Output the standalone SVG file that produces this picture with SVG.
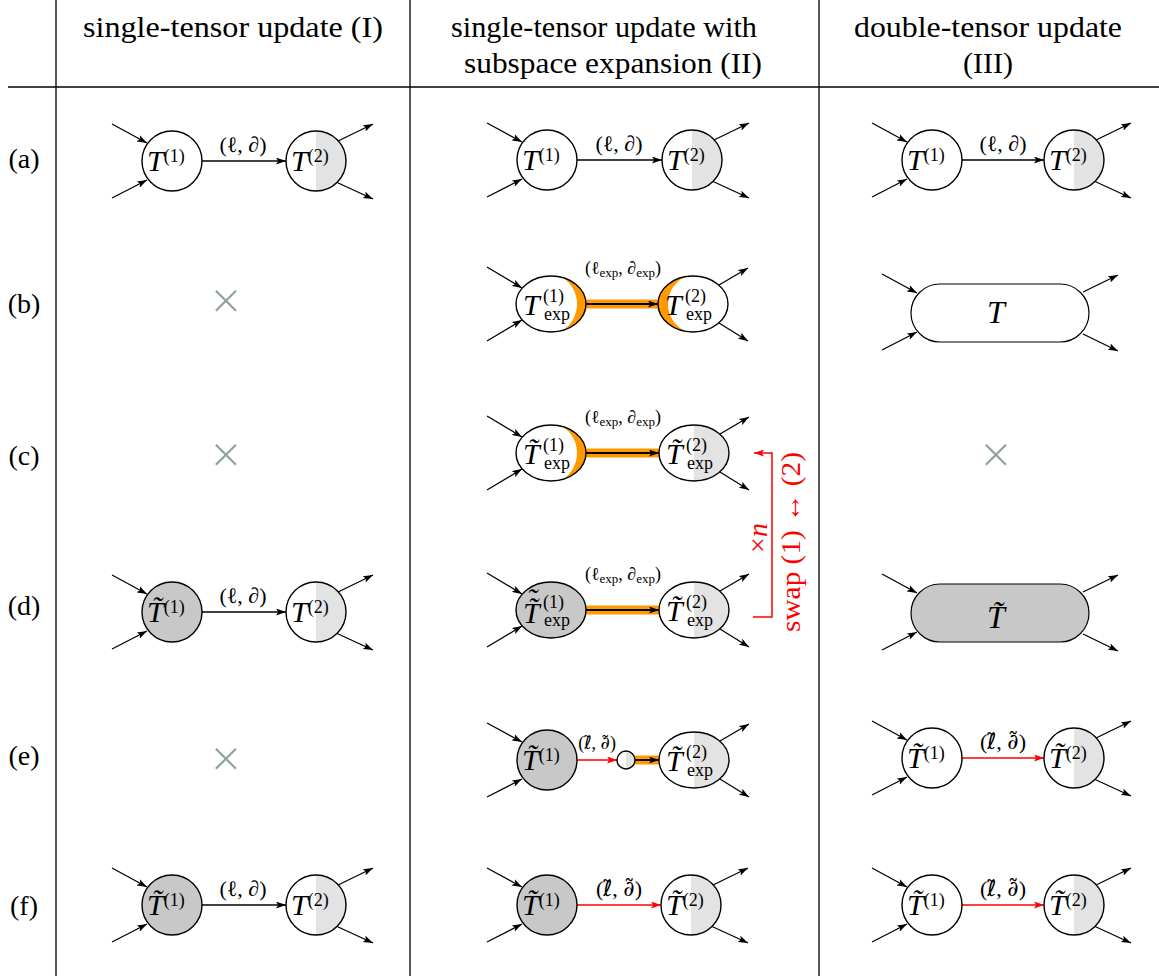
<svg xmlns="http://www.w3.org/2000/svg" width="1159" height="976" viewBox="0 0 1159 976">
<style>
.tx{font-family:"Liberation Serif","DejaVu Serif",serif;fill:#000}
.hd{font-size:30px}
.rl{font-size:28px}
.T{font-style:italic;font-size:30px}
.sp{font-size:18px;font-style:normal}
.lb{font-size:22px}
.sm{font-size:18px}
.ss{font-size:13px}
.dv{font-family:"DejaVu Serif",serif}
.dl{font-family:"DejaVu Sans",sans-serif}
.wh{fill:#fff}
.gr{fill:#c8c8c8}
.hg{fill:#e3e3e3}
.or{fill:#ff9900}
.ol{fill:none;stroke:#000;stroke-width:1.4}
.st{stroke:#000;stroke-width:1.3;fill:none;marker-end:url(#ah)}
.ed{stroke:#000;stroke-width:1.3;fill:none;marker-end:url(#ah)}
.red{stroke:#ff0000;stroke-width:1.5;fill:none;marker-end:url(#ahr)}
.band{stroke:#ff9900;stroke-width:9;fill:none}
.bk{stroke:#000;stroke-width:2;fill:none;marker-end:url(#ah)}
.grid{stroke:#000;stroke-width:1.3;fill:none}
.cross{font-family:"Inter","Liberation Sans",sans-serif;font-weight:200;font-size:50px;fill:#8fa0a0}
</style>
<defs>
<marker id="ah" viewBox="0 0 10 7" refX="10" refY="3.5" markerWidth="10" markerHeight="7" markerUnits="userSpaceOnUse" orient="auto"><path d="M0,0 L10,3.5 L0,7 L2.2,3.5 Z" fill="#000"/></marker>
<marker id="ahr" viewBox="0 0 10 7" refX="10" refY="3.5" markerWidth="10" markerHeight="7" markerUnits="userSpaceOnUse" orient="auto"><path d="M0,0 L10,3.5 L0,7 L2.2,3.5 Z" fill="#ff0000"/></marker>
</defs>
<rect width="1159" height="976" fill="#fff"/>

<g id="grid">
<line class="grid" x1="56" y1="0" x2="56" y2="976"/>
<line class="grid" x1="410" y1="0" x2="410" y2="976"/>
<line class="grid" x1="819" y1="0" x2="819" y2="976"/>
<line class="grid" x1="8" y1="87" x2="1159" y2="87" stroke-width="1.6"/>
</g>

<g id="headers" class="tx hd" text-anchor="middle">
<text x="233" y="37" textLength="300" lengthAdjust="spacingAndGlyphs">single-tensor update (I)</text>
<text x="604" y="37" textLength="306" lengthAdjust="spacingAndGlyphs">single-tensor update with</text>
<text x="613" y="73" textLength="298" lengthAdjust="spacingAndGlyphs">subspace expansion (II)</text>
<text x="988" y="37" textLength="268" lengthAdjust="spacingAndGlyphs">double-tensor update</text>
<text x="988" y="73">(III)</text>
</g>

<g id="rowlabels" class="tx rl" text-anchor="middle">
<text x="24" y="168">(a)</text>
<text x="24" y="313">(b)</text>
<text x="24" y="465">(c)</text>
<text x="24" y="615">(d)</text>
<text x="24" y="765">(e)</text>
<text x="24" y="915">(f)</text>
</g>

<g id="connectors">
<line class="ed" x1="202" y1="161" x2="286" y2="161"/>
<line class="ed" x1="202" y1="612" x2="286" y2="612"/>
<line class="ed" x1="202" y1="905" x2="286" y2="905"/>
<line class="ed" x1="577" y1="160" x2="662" y2="160"/>
<line class="band" x1="586" y1="304" x2="658" y2="304"/>
<line class="bk" x1="586" y1="304" x2="658" y2="304"/>
<line class="band" x1="586" y1="453" x2="659" y2="453"/>
<line class="bk" x1="586" y1="453" x2="659" y2="453"/>
<line class="band" x1="586" y1="610" x2="659" y2="610"/>
<line class="bk" x1="586" y1="610" x2="659" y2="610"/>
<line class="red" x1="577" y1="760" x2="617" y2="760"/>
<line class="band" x1="635" y1="760" x2="659" y2="760"/>
<line class="bk" x1="635" y1="760" x2="659" y2="760"/>
<line class="red" x1="577" y1="905" x2="661" y2="905"/>
<line class="ed" x1="962" y1="160" x2="1044" y2="160"/>
<line class="red" x1="962" y1="758" x2="1044" y2="758"/>
<line class="red" x1="962" y1="905" x2="1044" y2="905"/>
<polyline class="red" points="753,617 772,617 772,453 754,453"/>
</g>

<g id="edge-labels" class="tx">
<text class="lb" x="243" y="152" text-anchor="middle">(ℓ, ∂)</text>
<text class="lb" x="243" y="603" text-anchor="middle">(ℓ, ∂)</text>
<text class="lb" x="243" y="896" text-anchor="middle">(ℓ, ∂)</text>
<text class="lb" x="619" y="151" text-anchor="middle">(ℓ, ∂)</text>
<text class="lb" x="1003" y="151" text-anchor="middle">(ℓ, ∂)</text>
<text class="sm" x="623" y="274" text-anchor="middle">(ℓ<tspan class="ss" dy="3">exp</tspan><tspan dy="-3">, ∂</tspan><tspan class="ss" dy="3">exp</tspan><tspan dy="-3">)</tspan></text>
<text class="sm" x="623" y="423" text-anchor="middle">(ℓ<tspan class="ss" dy="3">exp</tspan><tspan dy="-3">, ∂</tspan><tspan class="ss" dy="3">exp</tspan><tspan dy="-3">)</tspan></text>
<text class="sm" x="623" y="580" text-anchor="middle">(ℓ<tspan class="ss" dy="3">exp</tspan><tspan dy="-3">, ∂</tspan><tspan class="ss" dy="3">exp</tspan><tspan dy="-3">)</tspan></text>
<text class="sm" x="597" y="749" text-anchor="middle">(<tspan class="dl">ℓ̃</tspan>, <tspan class="dv">∂̃</tspan>)</text>
<text class="lb" x="619" y="896" text-anchor="middle">(<tspan class="dl">ℓ̃</tspan>, <tspan class="dv">∂̃</tspan>)</text>
<text class="lb" x="1003" y="749" text-anchor="middle">(<tspan class="dl">ℓ̃</tspan>, <tspan class="dv">∂̃</tspan>)</text>
<text class="lb" x="1003" y="896" text-anchor="middle">(<tspan class="dl">ℓ̃</tspan>, <tspan class="dv">∂̃</tspan>)</text>
</g>

<g id="swap-label" class="tx">
<text transform="translate(767,538) rotate(-90)" text-anchor="middle" font-size="28" fill="#ff0000">×<tspan font-style="italic">n</tspan></text>
<text transform="translate(800,542) rotate(-90)" text-anchor="middle" font-size="27" fill="#ff0000" textLength="180" lengthAdjust="spacingAndGlyphs">swap (1) ↔ (2)</text>
</g>

<g id="crosses" class="cross" text-anchor="middle">
<text x="226" y="315">×</text>
<text x="226" y="469">×</text>
<text x="226" y="773">×</text>
<text x="996" y="469">×</text>
</g>

<!-- ================= Column I ================= -->
<g id="I-a-1">
<line class="st" x1="112" y1="124" x2="147" y2="143"/><line class="st" x1="112" y1="198" x2="147" y2="180"/>
<circle cx="172" cy="161" r="30" class="wh"/><circle cx="172" cy="161" r="30" class="ol"/>
<text class="tx" x="147" y="171"><tspan class="T">T</tspan><tspan class="sp" dy="-9">(1)</tspan></text>
</g>
<g id="I-a-2">
<line class="st" x1="336" y1="142" x2="373" y2="124"/><line class="st" x1="336" y1="182" x2="373" y2="199"/>
<circle cx="316" cy="161" r="30" class="wh"/><path class="hg" d="M316,131 A30,30 0 0 1 316,191 Z"/><circle cx="316" cy="161" r="30" class="ol"/>
<text class="tx" x="291" y="171"><tspan class="T">T</tspan><tspan class="sp" dy="-9">(2)</tspan></text>
</g>
<g id="I-d-1">
<line class="st" x1="112" y1="575" x2="147" y2="594"/><line class="st" x1="112" y1="649" x2="147" y2="631"/>
<circle cx="172" cy="612" r="30" class="gr"/><circle cx="172" cy="612" r="30" class="ol"/>
<text class="tx" x="147" y="622"><tspan class="T">T̃</tspan><tspan class="sp" dy="-9">(1)</tspan></text>
</g>
<g id="I-d-2">
<line class="st" x1="336" y1="593" x2="373" y2="575"/><line class="st" x1="336" y1="633" x2="373" y2="650"/>
<circle cx="316" cy="612" r="30" class="wh"/><path class="hg" d="M316,582 A30,30 0 0 1 316,642 Z"/><circle cx="316" cy="612" r="30" class="ol"/>
<text class="tx" x="291" y="622"><tspan class="T">T</tspan><tspan class="sp" dy="-9">(2)</tspan></text>
</g>
<g id="I-f-1">
<line class="st" x1="112" y1="868" x2="147" y2="887"/><line class="st" x1="112" y1="942" x2="147" y2="924"/>
<circle cx="172" cy="905" r="30" class="gr"/><circle cx="172" cy="905" r="30" class="ol"/>
<text class="tx" x="147" y="915"><tspan class="T">T̃</tspan><tspan class="sp" dy="-9">(1)</tspan></text>
</g>
<g id="I-f-2">
<line class="st" x1="336" y1="886" x2="373" y2="868"/><line class="st" x1="336" y1="926" x2="373" y2="943"/>
<circle cx="316" cy="905" r="30" class="wh"/><path class="hg" d="M316,875 A30,30 0 0 1 316,935 Z"/><circle cx="316" cy="905" r="30" class="ol"/>
<text class="tx" x="291" y="915"><tspan class="T">T</tspan><tspan class="sp" dy="-9">(2)</tspan></text>
</g>

<!-- ================= Column II ================= -->
<g id="II-a-1">
<line class="st" x1="487" y1="123" x2="522" y2="142"/><line class="st" x1="487" y1="197" x2="522" y2="179"/>
<circle cx="547" cy="160" r="30" class="wh"/><circle cx="547" cy="160" r="30" class="ol"/>
<text class="tx" x="522" y="170"><tspan class="T">T</tspan><tspan class="sp" dy="-9">(1)</tspan></text>
</g>
<g id="II-a-2">
<line class="st" x1="712" y1="141" x2="749" y2="123"/><line class="st" x1="712" y1="181" x2="749" y2="198"/>
<circle cx="692" cy="160" r="30" class="wh"/><path class="hg" d="M692,130 A30,30 0 0 1 692,190 Z"/><circle cx="692" cy="160" r="30" class="ol"/>
<text class="tx" x="667" y="170"><tspan class="T">T</tspan><tspan class="sp" dy="-9">(2)</tspan></text>
</g>

<g id="II-b-1">
<line class="st" x1="487" y1="267" x2="522" y2="288"/><line class="st" x1="487" y1="341" x2="522" y2="320"/>
<ellipse cx="551" cy="304" rx="35" ry="28" class="wh"/>
<path class="or" d="M563,277.7 A35,28 0 0 1 563,330.3 A31.7,31.7 0 0 0 563,277.7 Z"/>
<ellipse cx="551" cy="304" rx="35" ry="28" class="ol"/>
<text class="tx"><tspan class="T" x="523" y="315">T</tspan><tspan class="sp" x="543" y="302">(1)</tspan><tspan class="sp" x="544" y="320">exp</tspan></text>
</g>
<g id="II-b-2">
<line class="st" x1="719" y1="285" x2="748" y2="268"/><line class="st" x1="719" y1="323" x2="748" y2="341"/>
<ellipse cx="693" cy="304" rx="35" ry="28" class="wh"/>
<path class="or" d="M685,276.7 A35,28 0 0 0 685,331.3 A30.4,30.4 0 0 1 685,276.7 Z"/>
<ellipse cx="693" cy="304" rx="35" ry="28" class="ol"/>
<text class="tx"><tspan class="T" x="665" y="315">T</tspan><tspan class="sp" x="685" y="302">(2)</tspan><tspan class="sp" x="686" y="320">exp</tspan></text>
</g>

<g id="II-c-1">
<line class="st" x1="487" y1="416" x2="522" y2="437"/><line class="st" x1="487" y1="490" x2="522" y2="469"/>
<ellipse cx="551" cy="453" rx="35" ry="28" class="wh"/>
<path class="or" d="M563,426.7 A35,28 0 0 1 563,479.3 A31.7,31.7 0 0 0 563,426.7 Z"/>
<ellipse cx="551" cy="453" rx="35" ry="28" class="ol"/>
<text class="tx"><tspan class="T" x="523" y="464">T̃</tspan><tspan class="sp" x="543" y="451">(1)</tspan><tspan class="sp" x="544" y="469">exp</tspan></text>
</g>
<g id="II-c-2">
<line class="st" x1="720" y1="434" x2="749" y2="417"/><line class="st" x1="720" y1="472" x2="749" y2="490"/>
<ellipse cx="694" cy="453" rx="35" ry="28" class="wh"/>
<path class="hg" d="M694,425 A35,28 0 0 1 694,481 Z"/>
<ellipse cx="694" cy="453" rx="35" ry="28" class="ol"/>
<text class="tx"><tspan class="T" x="666" y="464">T̃</tspan><tspan class="sp" x="686" y="451">(2)</tspan><tspan class="sp" x="687" y="469">exp</tspan></text>
</g>

<g id="II-d-1">
<line class="st" x1="487" y1="573" x2="522" y2="594"/><line class="st" x1="487" y1="647" x2="522" y2="626"/>
<ellipse cx="551" cy="610" rx="35" ry="28" class="gr"/>
<ellipse cx="551" cy="610" rx="35" ry="28" class="ol"/>
<text class="tx"><tspan class="T" x="523" y="623">T̃</tspan><tspan class="T" x="527" y="609">˜</tspan><tspan class="sp" x="543" y="608">(1)</tspan><tspan class="sp" x="544" y="626">exp</tspan></text>
</g>
<g id="II-d-2">
<line class="st" x1="720" y1="591" x2="749" y2="574"/><line class="st" x1="720" y1="629" x2="749" y2="647"/>
<ellipse cx="694" cy="610" rx="35" ry="28" class="wh"/>
<path class="hg" d="M694,582 A35,28 0 0 1 694,638 Z"/>
<ellipse cx="694" cy="610" rx="35" ry="28" class="ol"/>
<text class="tx"><tspan class="T" x="666" y="621">T̃</tspan><tspan class="sp" x="686" y="608">(2)</tspan><tspan class="sp" x="687" y="626">exp</tspan></text>
</g>

<g id="II-e-1">
<line class="st" x1="487" y1="723" x2="522" y2="742"/><line class="st" x1="487" y1="797" x2="522" y2="779"/>
<circle cx="547" cy="760" r="30" class="gr"/><circle cx="547" cy="760" r="30" class="ol"/>
<text class="tx" x="522" y="770"><tspan class="T">T̃</tspan><tspan class="sp" dy="-9">(1)</tspan></text>
</g>
<g id="II-e-mid">
<circle cx="626" cy="760" r="9" class="wh"/><path class="hg" d="M626,751 A9,9 0 0 1 626,769 Z"/><circle cx="626" cy="760" r="9" class="ol" stroke-width="1.2"/>
</g>
<g id="II-e-2">
<line class="st" x1="720" y1="741" x2="749" y2="724"/><line class="st" x1="720" y1="779" x2="749" y2="797"/>
<ellipse cx="694" cy="760" rx="35" ry="28" class="wh"/>
<path class="hg" d="M694,732 A35,28 0 0 1 694,788 Z"/>
<ellipse cx="694" cy="760" rx="35" ry="28" class="ol"/>
<text class="tx"><tspan class="T" x="666" y="771">T̃</tspan><tspan class="sp" x="686" y="758">(2)</tspan><tspan class="sp" x="687" y="776">exp</tspan></text>
</g>

<g id="II-f-1">
<line class="st" x1="487" y1="868" x2="522" y2="887"/><line class="st" x1="487" y1="942" x2="522" y2="924"/>
<circle cx="547" cy="905" r="30" class="gr"/><circle cx="547" cy="905" r="30" class="ol"/>
<text class="tx" x="522" y="915"><tspan class="T">T̃</tspan><tspan class="sp" dy="-9">(1)</tspan></text>
</g>
<g id="II-f-2">
<line class="st" x1="711" y1="886" x2="748" y2="868"/><line class="st" x1="711" y1="926" x2="748" y2="943"/>
<circle cx="691" cy="905" r="30" class="wh"/><path class="hg" d="M691,875 A30,30 0 0 1 691,935 Z"/><circle cx="691" cy="905" r="30" class="ol"/>
<text class="tx" x="666" y="915"><tspan class="T">T̃</tspan><tspan class="sp" dy="-9">(2)</tspan></text>
</g>

<!-- ================= Column III ================= -->
<g id="III-a-1">
<line class="st" x1="872" y1="123" x2="907" y2="142"/><line class="st" x1="872" y1="197" x2="907" y2="179"/>
<circle cx="932" cy="160" r="30" class="wh"/><circle cx="932" cy="160" r="30" class="ol"/>
<text class="tx" x="907" y="170"><tspan class="T">T</tspan><tspan class="sp" dy="-9">(1)</tspan></text>
</g>
<g id="III-a-2">
<line class="st" x1="1094" y1="141" x2="1131" y2="123"/><line class="st" x1="1094" y1="181" x2="1131" y2="198"/>
<circle cx="1074" cy="160" r="30" class="wh"/><path class="hg" d="M1074,130 A30,30 0 0 1 1074,190 Z"/><circle cx="1074" cy="160" r="30" class="ol"/>
<text class="tx" x="1049" y="170"><tspan class="T">T</tspan><tspan class="sp" dy="-9">(2)</tspan></text>
</g>

<g id="III-b">
<line class="st" x1="882" y1="274" x2="917" y2="293"/><line class="st" x1="882" y1="350" x2="917" y2="332"/>
<line class="st" x1="1083" y1="292" x2="1118" y2="275"/><line class="st" x1="1083" y1="334" x2="1118" y2="351"/>
<rect x="911" y="284" width="178" height="58" rx="29" ry="29" fill="#fff" stroke="#000" stroke-width="1.2"/>
<text class="tx" x="996" y="323" text-anchor="middle" font-style="italic" font-size="32">T</text>
</g>

<g id="III-d">
<line class="st" x1="882" y1="574" x2="917" y2="593"/><line class="st" x1="882" y1="650" x2="917" y2="632"/>
<line class="st" x1="1083" y1="592" x2="1118" y2="575"/><line class="st" x1="1083" y1="634" x2="1118" y2="651"/>
<rect x="911" y="584" width="178" height="58" rx="29" ry="29" fill="#c8c8c8" stroke="#000" stroke-width="1.2"/>
<text class="tx" x="996" y="628" text-anchor="middle" font-style="italic" font-size="32">T̃</text>
</g>

<g id="III-e-1">
<line class="st" x1="872" y1="721" x2="907" y2="740"/><line class="st" x1="872" y1="795" x2="907" y2="777"/>
<circle cx="932" cy="758" r="30" class="wh"/><circle cx="932" cy="758" r="30" class="ol"/>
<text class="tx" x="907" y="768"><tspan class="T">T̃</tspan><tspan class="sp" dy="-9">(1)</tspan></text>
</g>
<g id="III-e-2">
<line class="st" x1="1094" y1="739" x2="1131" y2="721"/><line class="st" x1="1094" y1="779" x2="1131" y2="796"/>
<circle cx="1074" cy="758" r="30" class="wh"/><path class="hg" d="M1074,728 A30,30 0 0 1 1074,788 Z"/><circle cx="1074" cy="758" r="30" class="ol"/>
<text class="tx" x="1049" y="768"><tspan class="T">T̃</tspan><tspan class="sp" dy="-9">(2)</tspan></text>
</g>
<g id="III-f-1">
<line class="st" x1="872" y1="868" x2="907" y2="887"/><line class="st" x1="872" y1="942" x2="907" y2="924"/>
<circle cx="932" cy="905" r="30" class="wh"/><circle cx="932" cy="905" r="30" class="ol"/>
<text class="tx" x="907" y="915"><tspan class="T">T̃</tspan><tspan class="sp" dy="-9">(1)</tspan></text>
</g>
<g id="III-f-2">
<line class="st" x1="1094" y1="886" x2="1131" y2="868"/><line class="st" x1="1094" y1="926" x2="1131" y2="943"/>
<circle cx="1074" cy="905" r="30" class="wh"/><path class="hg" d="M1074,875 A30,30 0 0 1 1074,935 Z"/><circle cx="1074" cy="905" r="30" class="ol"/>
<text class="tx" x="1049" y="915"><tspan class="T">T̃</tspan><tspan class="sp" dy="-9">(2)</tspan></text>
</g>
</svg>
